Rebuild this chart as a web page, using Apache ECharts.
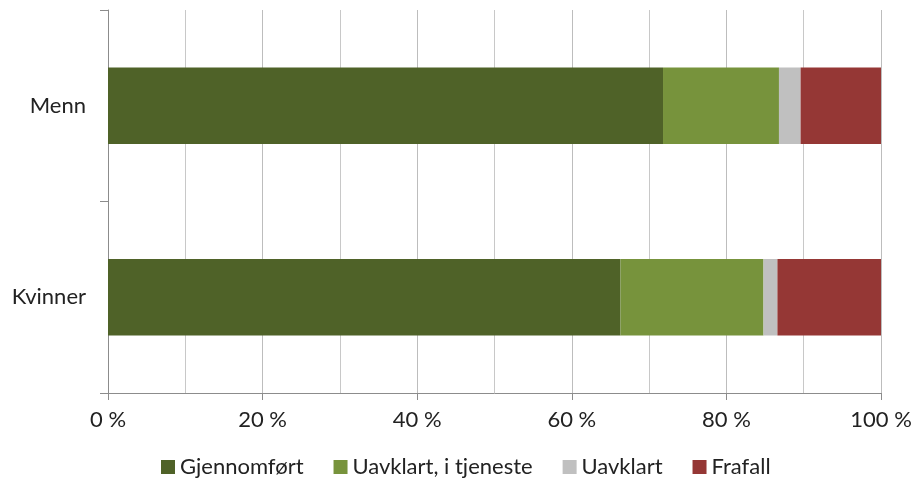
<!DOCTYPE html>
<html>
<head>
<meta charset="utf-8">
<script src="https://cdn.jsdelivr.net/npm/echarts@6/dist/echarts.min.js"></script>
<style>
  html, body { margin: 0; padding: 0; background: #fff; }
  #main { width: 912px; height: 488px; }
</style>
</head>
<body>
<div id="main"></div>
<script>
// kategorier og verdier (prosent)
const categories = ['Menn', 'Kvinner'];
const seriesNames = ['Gjennomført', 'Uavklart, i tjeneste', 'Uavklart', 'Frafall'];
const gjennomfort = [71.8, 66.3];
const uavklartTjeneste = [15.0, 18.5];
const uavklart = [2.8, 1.8];
const frafall = [10.4, 13.4];
const colors = ['#4F6228', '#77933C', '#C0C0C0', '#953735'];

const chart = echarts.init(document.getElementById('main'));

const values = [gjennomfort, uavklartTjeneste, uavklart, frafall];
const series = seriesNames.map((name, i) => ({
  name: name,
  type: 'bar',
  stack: 'total',
  barWidth: '40%',
  data: values[i],
  itemStyle: { color: colors[i] }
}));

const option = {
  animation: false,
  color: colors,
  // plassering av plottområdet
  grid: {
    left: 108,
    right: 31,
    top: 10,
    bottom: 95,
    containLabel: false,
    outerBoundsMode: 'none'
  },
  legend: {
    data: seriesNames,
    bottom: 5,
    left: 156,
    icon: 'rect',
    itemWidth: 14,
    itemHeight: 14,
    itemGap: 30,
    textStyle: {
      fontFamily: 'Lato',
      fontSize: 22,
      color: '#222'
    }
  },
  xAxis: {
    type: 'value',
    min: 0,
    max: 100,
    interval: 20,
    axisLine: {
      show: true,
      lineStyle: { color: '#8C8C8C', width: 1 }
    },
    axisTick: {
      show: true,
      length: 7,
      lineStyle: { color: '#8C8C8C' }
    },
    axisLabel: {
      margin: 16,
      fontFamily: 'Lato',
      fontSize: 22,
      color: '#222',
      formatter: v => v + ' %'
    },
    splitLine: {
      show: true,
      lineStyle: { color: '#BDBDBD', width: 1 }
    },
    minorTick: { show: false, splitNumber: 2 },
    minorSplitLine: {
      show: true,
      lineStyle: { color: '#C8C8C8', width: 1 }
    }
  },
  yAxis: {
    type: 'category',
    inverse: true,
    data: categories,
    axisLine: {
      show: true,
      lineStyle: { color: '#8C8C8C', width: 1 }
    },
    axisTick: {
      show: true,
      length: 8,
      lineStyle: { color: '#8C8C8C' }
    },
    axisLabel: {
      margin: 22,
      fontFamily: 'Lato',
      fontSize: 22,
      color: '#222'
    }
  },
  series: series
};

chart.setOption(option);
</script>
</body>
</html>
